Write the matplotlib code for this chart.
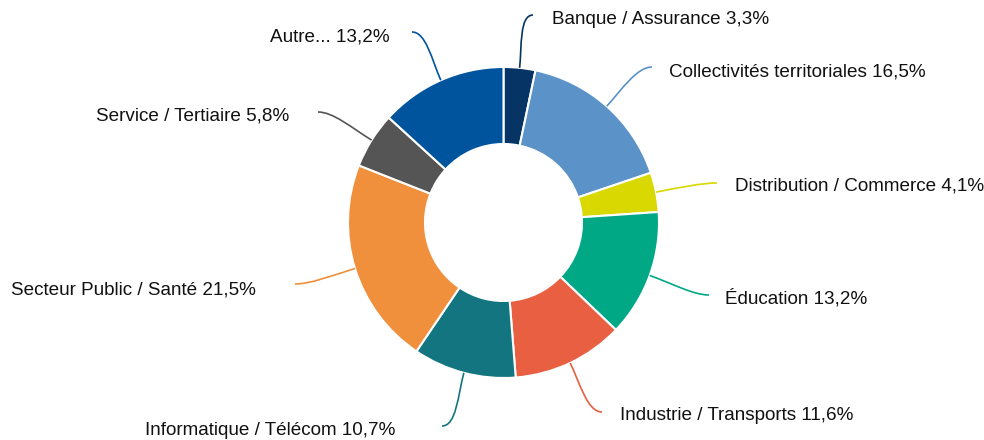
import numpy as np
import matplotlib
matplotlib.use("Agg")
import matplotlib.pyplot as plt
from matplotlib.path import Path
from matplotlib.patches import PathPatch

plt.rcParams["font.family"] = ["Liberation Sans", "DejaVu Sans"]

W, H = 984, 440

categories = ["Banque / Assurance", "Collectivités territoriales", "Distribution / Commerce",
              "Éducation", "Industrie / Transports", "Informatique / Télécom",
              "Secteur Public / Santé", "Service / Tertiaire", "Autre..."]
values = [3.3, 16.5, 4.1, 13.2, 11.6, 10.7, 21.5, 5.8, 13.2]
labels = ["3,3%", "16,5%", "4,1%", "13,2%", "11,6%", "10,7%", "21,5%", "5,8%", "13,2%"]
colors = ["#063464", "#5b92c8", "#d9d800", "#00a886", "#e95f41",
          "#137580", "#f08f3c", "#555555", "#00549e"]

# layout (pixel coords, y down): connector end, text anchor, side
CX, CY, R, RIN = 503.5, 222.5, 155.5, 78.5
line_end = [(533, 15), (652, 67), (717, 183), (709, 295), (602, 412),
            (442, 426), (295, 284), (318, 112), (412, 32)]
text_pos = [(552, 19), (669, 72), (735, 186), (725, 298), (620, 415),
            (395, 430), (256, 290), (289, 116), (390, 37)]
text_ha = ["left", "left", "left", "left", "left", "right", "right", "right", "right"]

fig = plt.figure(figsize=(W / 100, H / 100), dpi=100)
ax = fig.add_axes([0, 0, 1, 1])
ax.pie(values, colors=colors, center=(CX, H - CY), radius=R, startangle=90,
       counterclock=False,
       wedgeprops=dict(width=R - RIN, edgecolor="white", linewidth=1.5))
ax.set_xlim(0, W)
ax.set_ylim(0, H)
ax.set_aspect("equal", adjustable="box")
ax.axis("off")

total = sum(values)
cum = 0.0
for i, v in enumerate(values):
    mid = np.deg2rad(90 - (cum + v / 2) / total * 360)
    cum += v
    ux, uy = np.cos(mid), np.sin(mid)
    x0, y0 = CX + R * ux, (H - CY) + R * uy
    x3, y3 = line_end[i][0], H - line_end[i][1]
    d = np.hypot(x3 - x0, y3 - y0)
    side = 1 if text_ha[i] == "left" else -1
    p1 = (x0 + ux * d * 0.4, y0 + uy * d * 0.4)
    p2 = (x3 - side * d * 0.25, y3)
    path = Path([(x0, y0), p1, p2, (x3, y3)],
                [Path.MOVETO, Path.CURVE4, Path.CURVE4, Path.CURVE4])
    ax.add_patch(PathPatch(path, facecolor="none", edgecolor=colors[i], lw=1.2))
    tx, ty = text_pos[i]
    ax.text(tx, H - ty, f"{categories[i]} {labels[i]}", ha=text_ha[i], va="center",
            fontsize=13.6, color="#111111")

fig.savefig("out.png", dpi=100)
